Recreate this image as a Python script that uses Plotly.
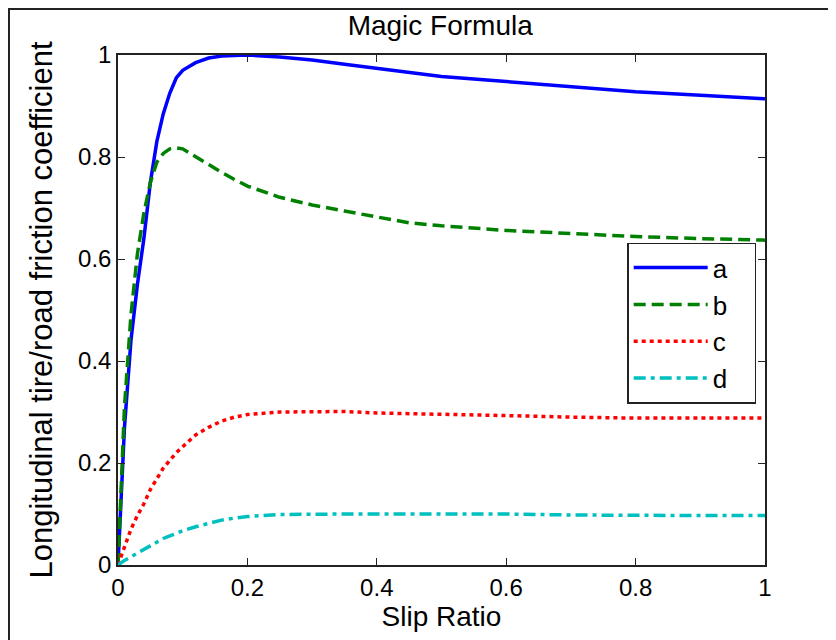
import plotly.graph_objects as go

# Slip ratio samples shared by all four curves
slip = [0, 0.005, 0.01, 0.02, 0.03, 0.04, 0.05, 0.06, 0.07, 0.08, 0.09, 0.1,
        0.12, 0.14, 0.16, 0.18, 0.2, 0.25, 0.3, 0.35, 0.4, 0.45, 0.5,
        0.6, 0.7, 0.8, 0.9, 1.0]

mu_a = [0, 0.12, 0.27, 0.44, 0.55, 0.64, 0.75, 0.83, 0.885, 0.925, 0.955, 0.97,
        0.985, 0.994, 0.998, 0.999, 1.0, 0.996, 0.99, 0.982, 0.974, 0.965, 0.958,
        0.948, 0.938, 0.928, 0.921, 0.914]
mu_b = [0, 0.17, 0.31, 0.49, 0.61, 0.69, 0.75, 0.79, 0.807, 0.816, 0.818, 0.816,
        0.80, 0.786, 0.77, 0.756, 0.743, 0.721, 0.706, 0.694, 0.682, 0.671, 0.665,
        0.656, 0.65, 0.644, 0.64, 0.637]
mu_c = [0, 0.018, 0.035, 0.07, 0.097, 0.12, 0.148, 0.17, 0.19, 0.205, 0.22, 0.232,
        0.255, 0.27, 0.282, 0.29, 0.295, 0.3, 0.301, 0.301, 0.298, 0.297, 0.296,
        0.293, 0.29, 0.288, 0.288, 0.288]
mu_d = [0, 0.005, 0.009, 0.016, 0.023, 0.03, 0.038, 0.045, 0.052, 0.057, 0.062, 0.067,
        0.075, 0.082, 0.088, 0.092, 0.095, 0.099, 0.1, 0.1, 0.1, 0.1, 0.1,
        0.1, 0.098, 0.097, 0.097, 0.097]

tick_vals = [0, 0.2, 0.4, 0.6, 0.8, 1]
tick_text = ['0', '0.2', '0.4', '0.6', '0.8', '1']

names = ['a', 'b', 'c', 'd']
FONT = 'Liberation Sans, Arial, Helvetica, sans-serif'

styles = [
    dict(color='#0000FF', dash='solid'),
    dict(color='#008000', dash='12px,6px'),
    dict(color='#FF0000', dash='4px,4px'),
    dict(color='#00BFBF', dash='12px,5px,4px,5px'),
]

fig = go.Figure()
for name, ys, st in zip(names, [mu_a, mu_b, mu_c, mu_d], styles):
    # trailing no-break spaces widen the legend box a little
    fig.add_trace(go.Scatter(x=slip, y=ys, name=name + '\u00a0\u00a0\u00a0', mode='lines',
                             line=dict(color=st['color'], dash=st['dash'], width=3.5)))

axis_common = dict(range=[0, 1], tickvals=tick_vals, ticktext=tick_text,
                   showgrid=False, zeroline=False, automargin=False,
                   showline=True, linecolor='#222', linewidth=1.5, mirror='allticks',
                   ticks='inside', ticklen=7, tickcolor='#222',
                   tickfont=dict(family=FONT, size=24, color='black'))

fig.update_layout(
    width=836, height=640,
    margin=dict(l=110, r=79, t=47, b=83),
    paper_bgcolor='white', plot_bgcolor='white',
    title=dict(text='Magic Formula', x=0.517, xanchor='center', y=0.973, yanchor='middle',
               font=dict(family=FONT, size=28, color='black')),
    xaxis=dict(axis_common,
               title=dict(text='Slip Ratio', standoff=4,
                          font=dict(family=FONT, size=28, color='black'))),
    yaxis=dict(axis_common,
               title=dict(text='Longitudinal tire/road friction coefficient', standoff=16,
                          font=dict(family=FONT, size=31, color='black'))),
    legend=dict(x=0.787, y=0.632, xanchor='left', yanchor='top',
                bgcolor='white', bordercolor='#222', borderwidth=1.5,
                font=dict(family=FONT, size=26, color='black'),
                itemwidth=74, tracegroupgap=0),
    showlegend=True,
)

# outer figure frame
fig.add_shape(type='rect', xref='paper', yref='paper',
              x0=-0.1685, x1=1.3, y0=-0.3, y1=1.09,
              line=dict(color='#222', width=2), fillcolor='rgba(0,0,0,0)', layer='below')

fig.write_html('out.html')
